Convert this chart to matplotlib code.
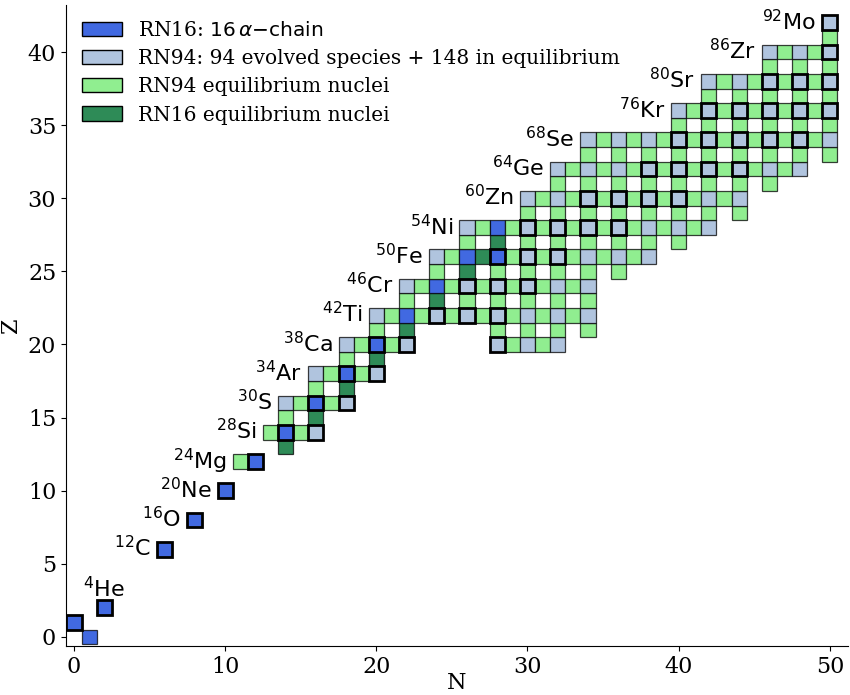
import matplotlib
matplotlib.use("Agg")
import matplotlib.pyplot as plt
from matplotlib.patches import Rectangle, Patch

plt.rcParams['font.family'] = 'DejaVu Serif'
plt.rcParams['mathtext.fontset'] = 'dejavusans'

# RN16 alpha-chain species as (N, Z)
alpha_chain = [(1, 0), (0, 1), (2, 2), (6, 6), (8, 8), (10, 10), (12, 12),
               (14, 14), (16, 16), (18, 18), (20, 20), (22, 22), (24, 24),
               (26, 26), (28, 26), (28, 28)]

# RN16 equilibrium nuclei (N, Z)
rn16_equil = [(14, 13), (16, 15), (18, 17), (20, 19), (22, 21), (24, 23),
              (26, 25), (27, 26), (28, 27)]

# RN94 network: N spans per Z row (odd-Z rows only hold even N)
rn94_spans = {
    12: [(11, 12)], 13: [(14, 14)], 14: [(13, 16)], 15: [(14, 16)],
    16: [(14, 18)], 17: [(16, 18)], 18: [(16, 20)], 19: [(18, 20)],
    20: [(18, 22), (28, 32)], 21: [(20, 22), (28, 34)],
    22: [(20, 34)], 23: [(22, 34)], 24: [(22, 34)], 25: [(24, 36)],
    26: [(24, 38)], 27: [(26, 40)], 28: [(26, 42)], 29: [(30, 44)],
    30: [(30, 44)], 31: [(32, 46)], 32: [(32, 48)], 33: [(34, 50)],
    34: [(34, 50)], 35: [(40, 50)], 36: [(40, 50)], 37: [(42, 50)],
    38: [(42, 50)], 39: [(46, 50)], 40: [(46, 50)], 41: [(50, 50)],
    42: [(50, 50)],
}

# stable nuclei among the evolved species (N, Z)
stable = [(0, 1), (2, 2), (6, 6), (8, 8), (10, 10), (12, 12), (14, 14),
          (16, 14), (16, 16), (18, 16), (18, 18), (20, 18), (20, 20),
          (22, 20), (28, 20), (24, 22), (26, 22), (28, 22), (26, 24),
          (28, 24), (30, 24), (28, 26), (30, 26), (32, 26), (30, 28),
          (32, 28), (34, 28), (36, 28), (34, 30), (36, 30), (38, 30),
          (40, 30), (38, 32), (40, 32), (42, 32), (44, 32), (40, 34),
          (42, 34), (44, 34), (46, 34), (48, 34), (42, 36), (44, 36),
          (46, 36), (48, 36), (50, 36), (46, 38), (48, 38), (50, 38),
          (50, 40), (50, 42)]

# labelled nuclei: (mass number, symbol, Z)
labels = [(4, 'He', 2), (12, 'C', 6), (16, 'O', 8), (20, 'Ne', 10),
          (24, 'Mg', 12), (28, 'Si', 14), (30, 'S', 16), (34, 'Ar', 18),
          (38, 'Ca', 20), (42, 'Ti', 22), (46, 'Cr', 24), (50, 'Fe', 26),
          (54, 'Ni', 28), (60, 'Zn', 30), (64, 'Ge', 32), (68, 'Se', 34),
          (76, 'Kr', 36), (80, 'Sr', 38), (86, 'Zr', 40), (92, 'Mo', 42)]

c_alpha = '#4169E1'
c_evolved = '#B0C4DE'
c_equil94 = '#90EE90'
c_equil16 = '#2E8B57'

fig = plt.figure(figsize=(8.5, 6.95), dpi=100)
ax = fig.add_axes([0.0776, 0.0705, 0.920, 0.922])

cells = {}
for Z, spans in rn94_spans.items():
    for n0, n1 in spans:
        for N in range(n0, n1 + 1):
            if Z % 2 == 1 and N % 2 == 1:
                continue
            cells[(N, Z)] = c_evolved if (N % 2 == 0 and Z % 2 == 0) else c_equil94
for key in rn16_equil:
    cells[key] = c_equil16
for key in alpha_chain:
    cells[key] = c_alpha

stable_set = set(stable)
for (N, Z), col in cells.items():
    bold = (N, Z) in stable_set
    ax.add_patch(Rectangle((N - 0.5, Z - 0.5), 1, 1, facecolor=col,
                           edgecolor='k' if bold else (0, 0, 0, 0.75),
                           lw=2.0 if bold else 0.9, zorder=3 if bold else 2))

for A, sym, Z in labels:
    txt = r'$^{%d}$%s' % (A, sym)
    if sym == 'He':
        ax.text(A - Z, Z + 0.75, txt, ha='center', va='baseline', fontsize=16,
                family='DejaVu Sans')
        continue
    # place the label just left of the first cell in its row
    n_first = A - Z
    if Z in rn94_spans:
        n_first = min(n_first, min(n0 for n0, n1 in rn94_spans[Z]))
    ax.text(n_first - 0.9, Z - 0.5, txt, ha='right', va='baseline',
            fontsize=16, family='DejaVu Sans')

ax.set_xlim(-0.53, 51.2)
ax.set_ylim(-0.62, 43.2)
ax.set_xticks([0, 10, 20, 30, 40, 50])
ax.set_yticks([0, 5, 10, 15, 20, 25, 30, 35, 40])
ax.tick_params(labelsize=16)
ax.set_xlabel('N', fontsize=16, labelpad=-4)
ax.set_ylabel('Z', fontsize=16, labelpad=4)
ax.spines['top'].set_visible(False)
ax.spines['right'].set_visible(False)

handles = [Patch(facecolor=c_alpha, edgecolor='k', label=r'RN16: $16\,\alpha{-}\mathrm{chain}$'),
           Patch(facecolor=c_evolved, edgecolor='k', label='RN94: 94 evolved species + 148 in equilibrium'),
           Patch(facecolor=c_equil94, edgecolor='k', label='RN94 equilibrium nuclei'),
           Patch(facecolor=c_equil16, edgecolor='k', label='RN16 equilibrium nuclei')]
ax.legend(handles=handles, loc='upper left', frameon=False, fontsize=14.5,
          handlelength=2.0, borderaxespad=0.4, labelspacing=0.45)

fig.savefig('out.png', dpi=100)
